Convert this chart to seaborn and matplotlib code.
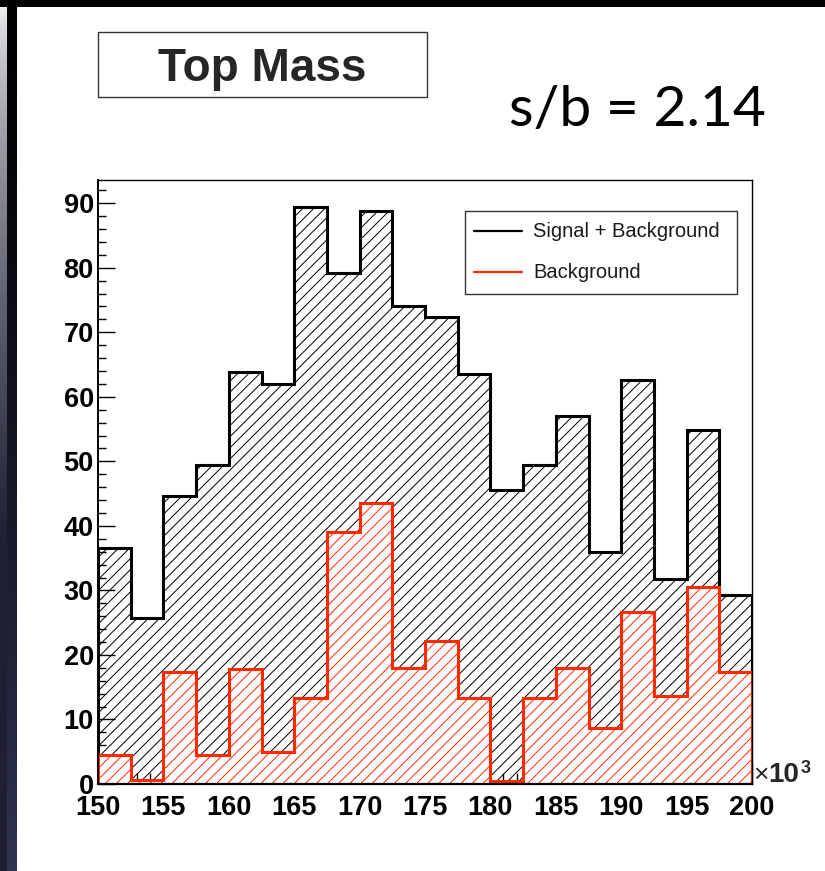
import numpy as np
import matplotlib
matplotlib.use("Agg")
import matplotlib.pyplot as plt
from matplotlib.patches import Rectangle
from matplotlib.lines import Line2D
from matplotlib.ticker import MultipleLocator
import seaborn as sns

# Histogram binning (x in units of 10^3)
x_lo, x_hi, n_bins = 150.0, 200.0, 20
bin_edges = np.linspace(x_lo, x_hi, n_bins + 1)
bin_centers = 0.5 * (bin_edges[:-1] + bin_edges[1:])

# Bin contents
sig_plus_bkg = [36.5, 25.8, 44.7, 49.4, 63.9, 62.0, 89.4, 79.2, 88.8, 74.0,
                72.4, 63.5, 45.6, 49.4, 57.1, 35.9, 62.6, 31.7, 54.8, 29.3]
background = [4.5, 0.6, 17.4, 4.5, 17.8, 4.9, 13.4, 39.1, 43.6, 17.9,
              22.2, 13.4, 0.4, 13.4, 18.0, 8.7, 26.6, 13.6, 30.6, 17.4]

series_labels = ["Signal + Background", "Background"]
title_text = "Top Mass"
ratio_text = "s/b = 2.14"
x_ticks = [150, 155, 160, 165, 170, 175, 180, 185, 190, 195, 200]
y_ticks = [0, 10, 20, 30, 40, 50, 60, 70, 80, 90]

sns.set_theme(style="white")
plt.rcParams["font.family"] = ["Liberation Sans", "DejaVu Sans"]
plt.rcParams["hatch.linewidth"] = 0.7

W, H = 825, 871
fig = plt.figure(figsize=(W / 100, H / 100), dpi=100)
fig.patch.set_facecolor("white")


def fx(px):
    return px / W


def fy(py):
    return 1 - py / H


# dark slide frame: left strip with a vertical gradient, top bar
grad = np.linspace(0, 1, 256)[:, None]
white = np.array([1.0, 1.0, 1.0])
black = np.array([0.0, 0.0, 0.0])
bot_outer = np.array([0x1e, 0x20, 0x33]) / 255
bot_inner = np.array([0x30, 0x33, 0x52]) / 255
cols = np.zeros((256, 17, 3))
for i in range(17):
    if i < 7:
        cols[:, i, :] = white + (bot_outer - white) * np.clip(grad * 1.6, 0, 1) ** 0.6
    else:
        cols[:, i, :] = black + (bot_inner - black) * grad ** 1.3
strip_ax = fig.add_axes([0, 0, fx(17), 1])
strip_ax.imshow(cols, aspect="auto", interpolation="nearest")
strip_ax.axis("off")
fig.add_artist(Rectangle((0, fy(7)), 1, 7 / H, transform=fig.transFigure,
                         facecolor="black", edgecolor="none", zorder=5))

# main histogram axes
ax = fig.add_axes([fx(98), fy(784), fx(752) - fx(98), fy(180) - fy(784)])
ax.set_facecolor("white")

red = "#ff2a00"

sns.histplot(x=bin_centers, weights=sig_plus_bkg, bins=n_bins, binrange=(x_lo, x_hi),
             element="step", fill=True, color="black", linewidth=2.2, ax=ax)
sns.histplot(x=bin_centers, weights=background, bins=n_bins, binrange=(x_lo, x_hi),
             element="step", fill=True, color=red, linewidth=2.2, ax=ax)
for coll, c, fc in zip(ax.collections, ["black", red], ["none", "white"]):
    coll.set_alpha(None)
    coll.set_facecolor(fc)
    coll.set_edgecolor(c)
    coll.set_hatch("///")
    coll.set_linewidth(2.2)
    coll.set_joinstyle("miter")

ax.set_xlim(x_lo, x_hi)
ax.set_ylim(0, 93.6)
ax.set_xlabel("")
ax.set_ylabel("")
ax.set_xticks(x_ticks)
ax.set_yticks(y_ticks)
ax.xaxis.set_minor_locator(MultipleLocator(1))
ax.yaxis.set_minor_locator(MultipleLocator(2))
ax.tick_params(axis="x", which="major", direction="in", length=15, width=1.0,
               labelsize=19.5, pad=8, colors="black", bottom=True, top=False)
ax.tick_params(axis="x", which="minor", direction="in", length=8, width=1.0,
               bottom=True, top=False, colors="black")
ax.tick_params(axis="y", which="major", direction="in", length=12, width=1.0,
               labelsize=19.5, pad=3, left=True, right=False, colors="black")
ax.tick_params(axis="y", which="minor", direction="in", length=6, width=1.0,
               left=True, right=False, colors="black")
for lab in ax.get_xticklabels() + ax.get_yticklabels():
    lab.set_fontweight("bold")
for side, sp in ax.spines.items():
    sp.set_color("black")
    sp.set_linewidth(1.0)
    sp.set_zorder(10)
ax.spines["bottom"].set_linewidth(1.6)
ax.spines["left"].set_linewidth(1.4)

# x10^3 axis multiplier
fig.text(fx(753), fy(782), "\u00d7", fontsize=19, ha="left", va="baseline")
fig.text(fx(768), fy(782), "10", fontsize=20, fontweight="bold",
         ha="left", va="baseline")
fig.text(fx(801), fy(773), "3", fontsize=13, fontweight="bold",
         ha="left", va="baseline")

# legend box
fig.add_artist(Rectangle((fx(465), fy(294)), fx(737) - fx(465), fy(211) - fy(294),
                         transform=fig.transFigure, facecolor="white",
                         edgecolor="#333333", linewidth=1.0, zorder=20))
for yy, c, lab in zip([231, 272], ["black", red], series_labels):
    fig.add_artist(Line2D([fx(474), fx(522)], [fy(yy), fy(yy)],
                          transform=fig.transFigure, color=c, linewidth=1.6,
                          zorder=21))
    fig.text(fx(533), fy(yy), lab, fontsize=14.5, color="#1a1a1a",
             ha="left", va="center", zorder=21)

# title box
fig.add_artist(Rectangle((fx(98), fy(97)), fx(427) - fx(98), fy(32) - fy(97),
                         transform=fig.transFigure, facecolor="white",
                         edgecolor="#333333", linewidth=1.0))
fig.text(fx(262), fy(81), title_text, fontsize=33, fontweight="bold",
         ha="center", va="baseline")

# signal over background ratio
fig.text(fx(509), fy(126), ratio_text, fontsize=41, family=["Lato", "DejaVu Sans"],
         ha="left", va="baseline", color="black")

fig.savefig("out.png", dpi=100, facecolor="white")
